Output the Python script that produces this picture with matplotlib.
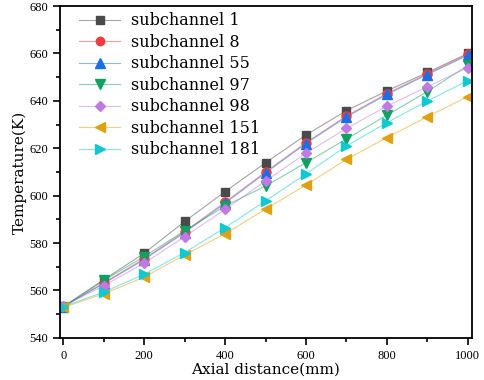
import matplotlib
matplotlib.use('Agg')
import matplotlib.pyplot as plt
from matplotlib.ticker import MultipleLocator

# data
axial = [0, 100, 200, 300, 400, 500, 600, 700, 800, 900, 1000]
sub1 = [553.2, 564.5, 575.7, 589.1, 601.7, 613.9, 625.6, 635.9, 644.2, 652.0, 660.0]
sub8 = [553.2, 563.2, 573.4, 584.8, 597.3, 610.0, 622.4, 633.6, 643.1, 651.5, 659.6]
sub55 = [553.2, 562.9, 573.0, 584.4, 596.8, 609.6, 622.0, 633.2, 642.7, 651.1, 659.2]
sub97 = [553.0, 564.2, 574.3, 585.2, 595.6, 604.1, 613.9, 623.9, 634.0, 643.9, 655.0]
sub98 = [553.3, 562.0, 571.5, 582.7, 594.2, 606.2, 617.9, 628.4, 637.8, 646.0, 654.0]
sub151 = [552.8, 558.6, 565.6, 575.0, 583.9, 594.3, 604.5, 615.3, 624.5, 633.3, 641.8]
sub181 = [553.2, 559.3, 566.8, 576.0, 586.5, 597.8, 609.2, 621.0, 630.8, 640.0, 648.5]

labels = ['subchannel 1', 'subchannel 8', 'subchannel 55', 'subchannel 97',
          'subchannel 98', 'subchannel 151', 'subchannel 181']
series = [sub1, sub8, sub55, sub97, sub98, sub151, sub181]
colors = ['#4a4a4a', '#f03c3c', '#1a6fe8', '#10a060', '#c07ae0', '#e0a010', '#10c8d0']
markers = ['s', 'o', '^', 'v', 'D', '<', '>']
msizes = [6, 6.5, 7, 7, 5.5, 7, 7]

fig = plt.figure(figsize=(4.84, 3.80), dpi=100)
ax = fig.add_axes([0.124, 0.111, 0.851, 0.873])

for ys, lab, c, m, ms in zip(series, labels, colors, markers, msizes):
    ax.plot(axial, ys, color=c, lw=0.8, alpha=0.5)
    ax.plot(axial, ys, linestyle='none', marker=m, ms=ms, color=c, mec=c)

# legend handles: faded line with a solid marker
handles = []
for lab, c, m, ms in zip(labels, colors, markers, msizes):
    h1, = ax.plot([], [], color=c, lw=0.8, alpha=0.5)
    h2, = ax.plot([], [], linestyle='none', marker=m, ms=ms - 0.5, color=c)
    handles.append((h1, h2))

leg = ax.legend(handles, labels, loc='upper left', frameon=False,
                prop={'family': 'DejaVu Serif', 'size': 11.5},
                handlelength=2.6, handletextpad=0.7, labelspacing=0.28,
                borderaxespad=0.0, bbox_to_anchor=(0.03, 1.0))

ax.set_xlim(-8, 1010)
ax.set_ylim(540, 680)
ax.xaxis.set_major_locator(MultipleLocator(200))
ax.xaxis.set_minor_locator(MultipleLocator(100))
ax.yaxis.set_major_locator(MultipleLocator(20))
ax.yaxis.set_minor_locator(MultipleLocator(10))
ax.tick_params(which='both', direction='out', top=False, right=False, width=1.2)
ax.tick_params(which='major', length=5, labelsize=9)
ax.tick_params(which='minor', length=3)
for t in ax.get_xticklabels() + ax.get_yticklabels():
    t.set_family('Liberation Serif')
for s in ax.spines.values():
    s.set_linewidth(1.3)

ax.set_xlabel('Axial distance(mm)', family='DejaVu Serif', fontsize=11, labelpad=1)
ax.set_ylabel('Temperature(K)', family='DejaVu Serif', fontsize=11, labelpad=2)

fig.savefig('out.png', dpi=100)
